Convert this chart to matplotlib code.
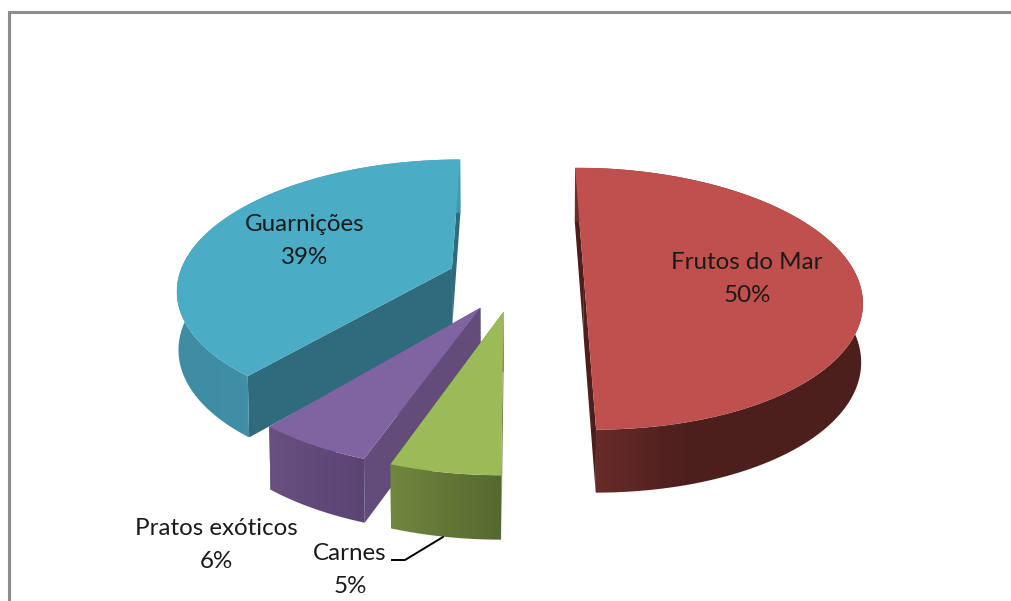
import matplotlib
matplotlib.use('Agg')
import matplotlib.pyplot as plt
from matplotlib.patches import Polygon
from matplotlib.colors import to_rgb
import numpy as np

# --- data ---
categories = ['Frutos do Mar', 'Carnes', 'Pratos exóticos', 'Guarnições']
values = [50, 5.4, 5.7, 38.9]

# --- styles, same order as categories ---
top_colors = ['#C0504D', '#9BBB59', '#8064A2', '#4BACC6']
wall_colors = ['#4C1F1D', '#5F7436', '#624C7A', '#2F6B7C']
side_start = ['#6E2E2C', '#71873F', '#685080', '#3F8CA3']
side_end = ['#4C1F1D', '#55692F', '#5A4473', '#4499B0']
side_speed = [2.6, 1, 1, 1]
label_pos = [(747, 279), (350, 570), (216, 545), (305, 241)]
draw_order = [3, 2, 1, 0]

# --- camera: flat pie seen from above, in pixels ---
CX, CY = 515.5, 279
FX, FY = 274, 128
K = 0.15
EXPLODE = 0.25
DEPTH = 58
DEPTH_K = 0.08
SHRINK = 0.995


def project(px, py, low=False):
    w = 1 + K * py
    x = CX + FX * px / w
    y = CY - FY * py / w
    if low:
        x = CX + (x - CX) * SHRINK
        y = y + DEPTH / (1 + DEPTH_K * py)
    return np.column_stack([x, y])


fig = plt.figure(figsize=(10.11, 6.01), dpi=100)
ax = fig.add_axes([0, 0, 1, 1])

# marco gris, sale por abajo y por la derecha
ax.plot([9, 9, 1011], [601, 12, 12], color='#8C8C8C', linewidth=2.2,
        solid_joinstyle='miter', zorder=1)

edges = np.radians(np.cumsum([0] + values) * 3.6)
z = 2

for i in draw_order:
    t0, t1 = edges[i], edges[i + 1]
    mid = (t0 + t1) / 2
    ox, oy = EXPLODE * np.sin(mid), EXPLODE * np.cos(mid)
    th = np.linspace(t0, t1, 120)
    rx, ry = ox + np.sin(th), oy + np.cos(th)

    top_arc = project(rx, ry)
    low_arc = project(rx, ry, low=True)
    apex_top = project(np.array([ox]), np.array([oy]))
    apex_low = project(np.array([ox]), np.array([oy]), low=True)

    # paredes radiales
    for j in (0, -1):
        quad = [apex_top[0], top_arc[j], low_arc[j], apex_low[0]]
        ax.add_patch(Polygon(quad, closed=True, facecolor=wall_colors[i],
                             edgecolor='none', zorder=z))
    z += 1

    # pared exterior, degradado horizontal recortado
    shape = np.vstack([top_arc, low_arc[::-1]])
    x0, x1 = shape[:, 0].min(), shape[:, 0].max()
    y0, y1 = shape[:, 1].min(), shape[:, 1].max()
    frac = np.clip(np.linspace(0, 1, 256) * side_speed[i], 0, 1)[:, None]
    rgb = np.array(to_rgb(side_start[i])) * (1 - frac) + np.array(to_rgb(side_end[i])) * frac
    im = ax.imshow(rgb[None, :, :], extent=(x0, x1, y1, y0), aspect='auto',
                   interpolation='bilinear', zorder=z)
    clip = Polygon(shape, closed=True, transform=ax.transData)
    im.set_clip_path(clip)
    z += 1

    # cara superior
    face = np.vstack([apex_top, top_arc])
    ax.add_patch(Polygon(face, closed=True, facecolor=top_colors[i],
                         edgecolor='none', zorder=z))
    z += 1

ax.set_xlim(0, 1011)
ax.set_ylim(601, 0)
ax.axis('off')

# --- etiquetas ---
for name, val, (lx, ly) in zip(categories, values, label_pos):
    ax.text(lx, ly, f'{name}\n{val:.0f}%', ha='center', va='center', fontsize=17.4,
            family='Lato', color='#1A1A1A', linespacing=1.7, zorder=z)

# linea guia de Carnes
ax.plot([392, 405, 443], [560, 560, 537], color='black', linewidth=1.4, zorder=z)

fig.savefig('out.png', dpi=100)
